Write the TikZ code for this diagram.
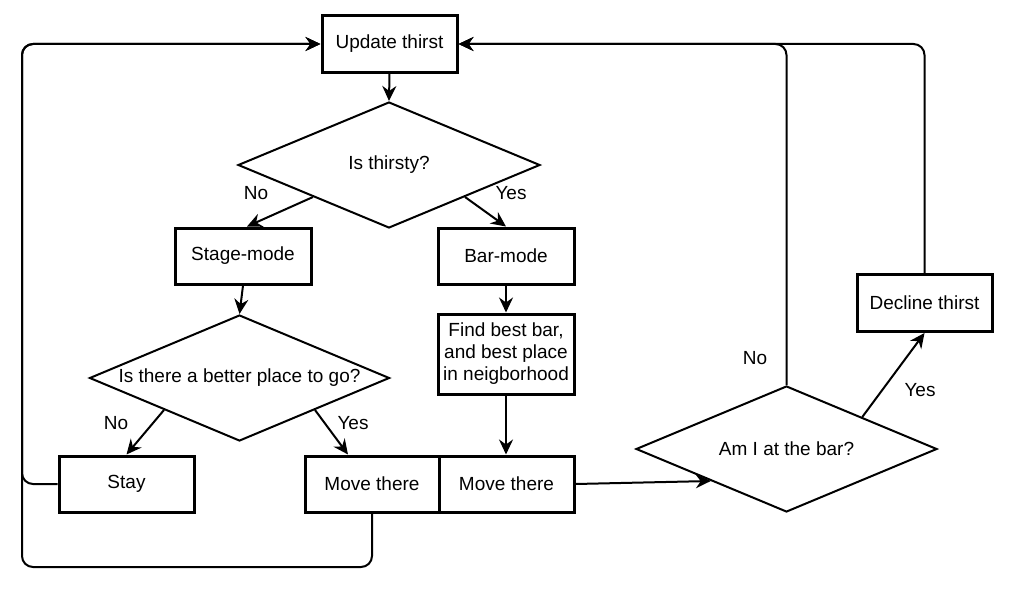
\documentclass[tikz,border=0pt]{standalone}
\usepackage{fontspec}
\setmainfont{Liberation Sans}
\usetikzlibrary{shapes.geometric,arrows.meta}
\begin{document}
\begin{tikzpicture}[x=1pt,y=-1pt,
  every node/.style={font=\fontsize{19}{22}\selectfont},
  box/.style={draw,line width=3pt,minimum width=136pt,minimum height=56pt,inner sep=0pt,align=center},
  dia/.style={draw,diamond,line width=2pt,inner sep=0pt},
  conn/.style={line width=2pt,-{Stealth[length=15pt,width=14pt,inset=5pt]}},
  loop/.style={conn,rounded corners=11pt},
  lab/.style={inner sep=0pt}]
\useasboundingbox (0,0) rectangle (1016,594);
\node[box,minimum width=135pt] (upd) at (389.5,44) {Update thirst};
\node[dia,minimum width=302pt,minimum height=126pt] (d1) at (389,165) {\makebox[0pt]{Is thirsty?}};
\node[box] (stage) at (243,256) {Stage-mode};
\node[box] (bar) at (506,256) {Bar-mode};
\node[dia,minimum width=300pt,minimum height=126pt] (d2) at (239.5,378) {\makebox[0pt]{Is there a better place to go?}};
\node[box,minimum height=80pt] (find) at (506,354) {Find best bar,\\and best place\\in neigborhood};
\node[box,minimum width=135pt] (stay) at (126.5,484) {Stay};
\node[box,minimum width=134pt] (mvl) at (372,484) {Move there};
\node[box,minimum width=135pt] (mvr) at (506.5,484) {Move there};
\node[dia,minimum width=301pt,minimum height=126pt] (am) at (786.5,449) {\makebox[0pt]{Am I at the bar?}};
\node[box,minimum width=135pt,minimum height=57pt] (dec) at (924.5,303) {Decline thirst};
% labels
\node[lab] (l1) at (256,193) {No};
\node[lab] (l2) at (511,193) {Yes};
\node[lab] (l3) at (116,423) {No};
\node[lab] (l4) at (353,423) {Yes};
\node[lab] (l5) at (755,358) {No};
\node[lab] (l6) at (920,390) {Yes};
% connectors
\draw[conn] (upd.south) -- (d1.north);
\draw[conn] (d1.south west) -- ([xshift=4pt]stage.north);
\draw[conn] (d1.south east) -- (bar.north);
\draw[conn] (stage.south) -- (d2.north);
\draw[conn] (bar.south) -- (find.north);
\draw[conn] (find.south) -- ([xshift=-0.5pt]mvr.north);
\draw[conn] (d2.south west) -- (stay.north);
\draw[conn] (d2.south east) -- ([xshift=-24pt]mvl.north);
\draw[conn] (mvr.east) -- (am.south west);
\draw[conn] (am.north east) -- (dec.south);
\draw[loop] (stay.west) -| (22,44) -- (upd.west);
\draw[loop] (mvl.south) |- (22,567) -- (22,44) -- (upd.west);
\draw[loop] (am.north) |- (upd.east);
\draw[loop] (dec.north) |- (upd.east);
\end{tikzpicture}
\end{document}
